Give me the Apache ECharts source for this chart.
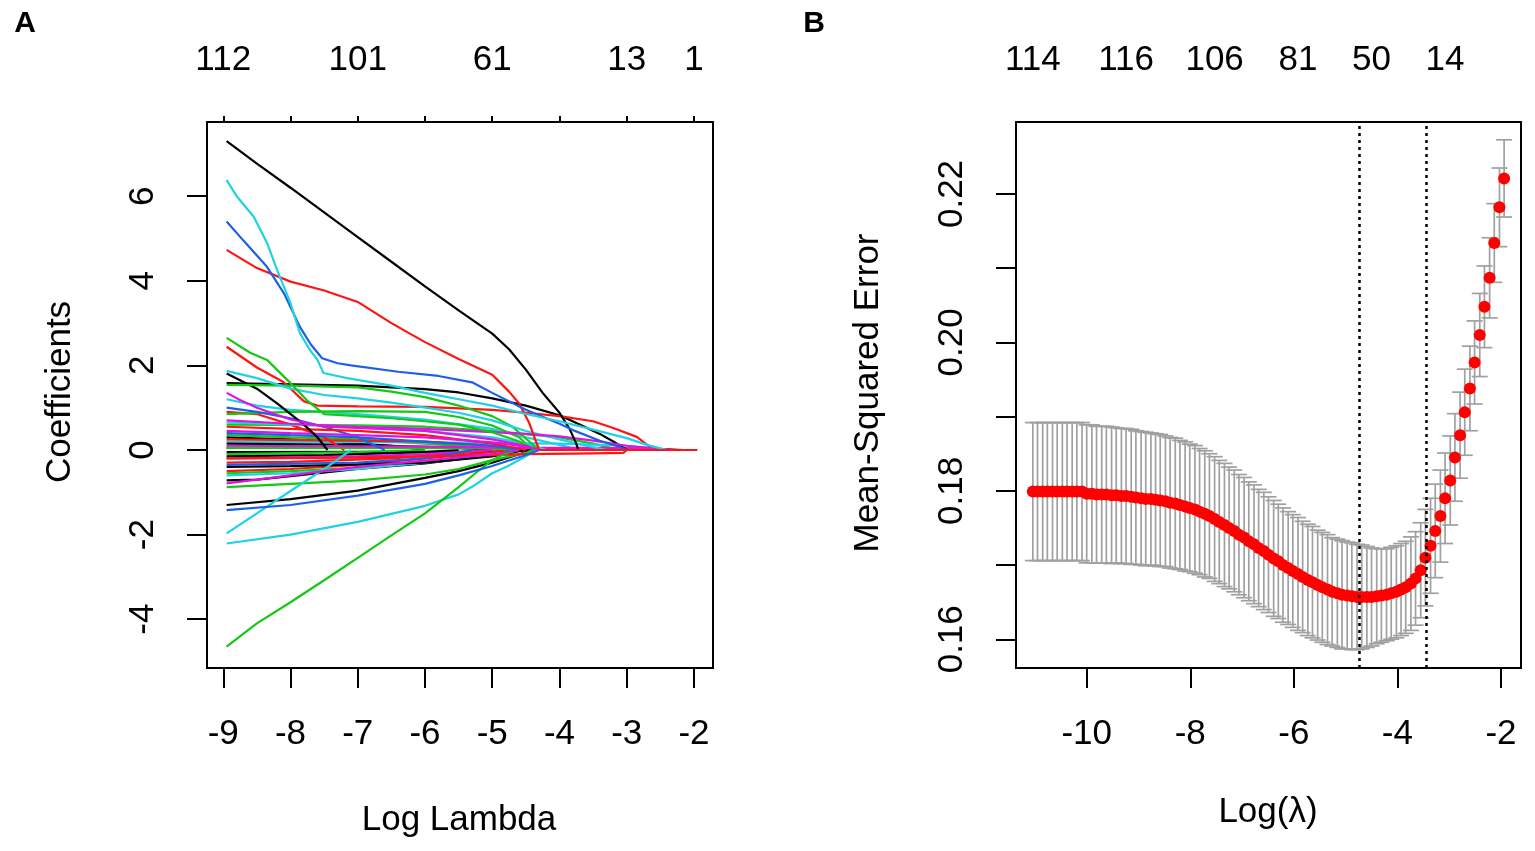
<!DOCTYPE html>
<html>
<head>
<meta charset="utf-8">
<script src="https://cdn.jsdelivr.net/npm/echarts@6/dist/echarts.min.js"></script>
<style>
html, body { margin: 0; padding: 0; background: #fff; }
#chart { width: 1535px; height: 851px; }
</style>
</head>
<body>
<div id="chart"></div>
<script>
// ---- panel A: lasso coefficient paths, [log lambda, coefficient]
var blackPaths = [
  [[-8.95,7.3],[-8.5,6.77],[-8,6.2],[-7.5,5.62],[-7,5.03],[-6.5,4.45],[-6,3.87],[-5.5,3.3],[-5,2.75],[-4.75,2.38],[-4.5,1.9],[-4.25,1.35],[-4,0.88],[-3.85,0.5],[-3.75,0.15],[-3.72,0]],
  [[-8.95,1.81],[-8.5,1.45],[-8.2,1.1],[-7.8,0.6],[-7.6,0.3],[-7.45,0]],
  [[-8.95,1.58],[-8,1.55],[-7,1.52],[-6.5,1.48],[-6,1.44],[-5.5,1.36],[-5,1.22],[-4.5,1.05],[-4,0.82],[-3.7,0.6],[-3.4,0.38],[-3.2,0.2],[-3.0,0]],
  [[-8.95,-1.3],[-8,-1.16],[-7,-0.96],[-6,-0.66],[-5.5,-0.5],[-5,-0.3],[-4.6,-0.1],[-4.4,0]],
  [[-8.95,-0.4],[-8,-0.38],[-7,-0.34],[-6,-0.3],[-5,-0.15],[-4.5,0]],
  [[-8.95,0.05],[-6,0.05],[-4,0.04],[-3,0.03],[-2.5,0.02],[-2.16,0]],
  [[-8.95,0.15],[-7,0.12],[-5.5,0.05],[-5,0]],
  [[-8.95,-0.15],[-7.5,-0.12],[-6,-0.05],[-5.5,0]],
  [[-8.95,0.3],[-8,0.25],[-6.5,0.1],[-6,0]],
  [[-8.95,-0.72],[-8.5,-0.7],[-8,-0.62],[-7,-0.45],[-6,-0.32],[-5,-0.12],[-4.6,0]],
  [[-8.95,-0.05],[-5,-0.04],[-4.3,0]]
];
var redPaths = [
  [[-8.95,4.73],[-8.5,4.3],[-8,3.98],[-7.5,3.77],[-7,3.5],[-6.5,3.0],[-6,2.55],[-5.5,2.15],[-5,1.78],[-4.75,1.38],[-4.6,1.1],[-4.45,0.64],[-4.35,0.2],[-4.3,0]],
  [[-8.95,2.44],[-8.5,1.95],[-8.1,1.6],[-7.8,1.15],[-7.6,1.05],[-7,1.03],[-6,1.02],[-5,0.95],[-4.5,0.88],[-4,0.8],[-3.5,0.68],[-3.2,0.52],[-2.85,0.31],[-2.6,0]],
  [[-8.95,-0.2],[-7,-0.18],[-5,-0.12],[-4.5,-0.1],[-3.5,-0.08],[-3.05,-0.07],[-3.0,0]],
  [[-8.95,0.55],[-8,0.5],[-7,0.45],[-6,0.35],[-5,0.15],[-4.5,0]],
  [[-8.95,-0.3],[-8,-0.28],[-6.5,-0.2],[-5.5,-0.08],[-5,0]],
  [[-8.95,0.9],[-8.5,0.85],[-8,0.6],[-7.5,0.3],[-7.2,0]],
  [[-8.95,0.25],[-7,0.22],[-6,0.2],[-5,0.1],[-4.6,0]],
  [[-8.95,-0.5],[-8,-0.45],[-7,-0.35],[-6,-0.2],[-5,-0.05],[-4.8,0]]
];
var greenPaths = [
  [[-8.95,2.65],[-8.6,2.3],[-8.35,2.13],[-8,1.58],[-7.76,1.18],[-7.5,0.85],[-7,0.8],[-6.5,0.75],[-6,0.68],[-5.5,0.6],[-5,0.42],[-4.6,0.2],[-4.35,0]],
  [[-8.95,1.54],[-8,1.52],[-7,1.48],[-6.5,1.38],[-6,1.25],[-5.5,1.05],[-5,0.8],[-4.7,0.55],[-4.45,0.2],[-4.3,0]],
  [[-8.95,-4.65],[-8.5,-4.1],[-8,-3.6],[-7.5,-3.08],[-7,-2.55],[-6.5,-2.02],[-6,-1.5],[-5.5,-0.88],[-5.25,-0.55],[-5,-0.24],[-4.8,-0.08],[-4.6,0]],
  [[-8.95,-0.88],[-8,-0.8],[-7,-0.72],[-6,-0.58],[-5.5,-0.45],[-5,-0.24],[-4.5,-0.07],[-4.4,0]],
  [[-8.95,0.85],[-8,0.9],[-7,0.92],[-6,0.9],[-5.5,0.78],[-5,0.58],[-4.6,0.3],[-4.4,0]],
  [[-8.95,0.05],[-6,0.05],[-5,0.03],[-4.5,0]],
  [[-8.95,-0.55],[-8,-0.5],[-7,-0.42],[-6,-0.3],[-5,-0.1],[-4.6,0]],
  [[-8.95,0.35],[-8,0.3],[-7,0.25],[-6,0.15],[-5,0.05],[-4.7,0]],
  [[-8.95,-0.1],[-7,-0.05],[-6,0]],
  [[-8.95,0.6],[-7,0.58],[-6,0.55],[-5,0.45],[-4,0.3],[-3.5,0.15],[-3.1,0]]
];
var bluePaths = [
  [[-8.95,5.4],[-8.7,4.95],[-8.35,4.33],[-8.1,3.71],[-7.86,2.91],[-7.7,2.5],[-7.53,2.17],[-7.3,2.05],[-7.1,2.0],[-6.4,1.85],[-5.8,1.75],[-5.3,1.6],[-5,1.35],[-4.5,0.95],[-4,0.62],[-3.8,0.47],[-3.4,0.22],[-3.1,0.07],[-3.0,0]],
  [[-8.95,-1.42],[-8,-1.3],[-7,-1.08],[-6,-0.8],[-5.5,-0.6],[-5,-0.38],[-4.5,-0.12],[-4.3,0]],
  [[-8.95,0.4],[-8,0.35],[-7,0.3],[-6,0.2],[-5,0.1],[-4.6,0]],
  [[-8.95,-0.35],[-7,-0.3],[-6,-0.2],[-5.3,0]],
  [[-8.95,1.0],[-8.5,0.9],[-8,0.75],[-7.5,0.55],[-7,0.3],[-6.6,0]]
];
var cyanPaths = [
  [[-8.95,6.38],[-8.8,6.0],[-8.55,5.52],[-8.35,4.9],[-8.2,4.26],[-8,3.47],[-7.86,2.76],[-7.71,2.36],[-7.6,2.13],[-7.51,1.82],[-7.16,1.7],[-6.5,1.52],[-6,1.35],[-5.5,1.2],[-5,1.05],[-4.5,0.85],[-4,0.68],[-3.5,0.48],[-3,0.28],[-2.7,0.12],[-2.4,0]],
  [[-8.95,1.87],[-8.5,1.7],[-8,1.45],[-7.5,1.3],[-7,1.22],[-6.5,1.12],[-6,1.0],[-5.5,0.88],[-5,0.7],[-4.5,0.45],[-4,0.25],[-3.6,0.1],[-3.3,0]],
  [[-8.95,-1.97],[-8.5,-1.5],[-8,-0.97],[-7.5,-0.45],[-7.27,-0.19],[-7.1,0]],
  [[-8.95,-2.21],[-8,-2.0],[-7,-1.7],[-6,-1.32],[-5.5,-1.05],[-5.3,-0.87],[-5,-0.55],[-4.78,-0.39],[-4.5,-0.15],[-4.35,0]],
  [[-8.95,0.65],[-8,0.6],[-7,0.55],[-6,0.45],[-5,0.3],[-4.5,0.15],[-4.2,0]],
  [[-8.95,-0.6],[-8,-0.55],[-7,-0.45],[-6,-0.3],[-5,-0.12],[-4.6,0]],
  [[-8.95,1.2],[-8.5,1.05],[-8,0.95],[-7,0.85],[-6,0.72],[-5,0.5],[-4.5,0.3],[-4,0.12],[-3.7,0]],
  [[-8.95,0.2],[-6,0.18],[-4,0.15],[-3,0.1],[-2.6,0.04],[-2.3,0]]
];
var magentaPaths = [
  [[-8.95,1.35],[-8.75,1.18],[-8.5,1.0],[-8,0.72],[-7.5,0.55],[-7,0.52],[-6,0.45],[-5,0.25],[-4.5,0.1],[-4.3,0]],
  [[-8.95,0.7],[-8,0.62],[-7,0.55],[-6,0.5],[-5,0.42],[-4.5,0.38],[-4,0.32],[-3.5,0.22],[-3,0.1],[-2.6,0.04],[-2.3,0]],
  [[-8.95,-0.79],[-8.5,-0.7],[-8,-0.6],[-7,-0.4],[-6,-0.25],[-5,-0.1],[-4.6,0]],
  [[-8.95,0.45],[-8,0.4],[-7,0.35],[-6,0.3],[-5,0.18],[-4.5,0.08],[-4.3,0]],
  [[-8.95,-0.2],[-7,-0.15],[-6,-0.1],[-5,0]],
  [[-8.95,0.1],[-6,0.08],[-4.5,0.05],[-3.5,0.05],[-3,0.04],[-2.5,0.02],[-2.3,0]]
];
var redTail = [[-4.3,0],[-1.95,0]];

var ticksA = [-9, -8, -7, -6, -5, -4, -3, -2];
var yTicksA = [-4, -2, 0, 2, 4, 6];
var dfPosA = [-9, -7, -5, -3, -2];
var dfLabelsA = ['112', '101', '61', '13', '1'];

// ---- panel B: cross-validated MSE
var logLambdaB = [
  -11.04,-10.95,-10.85,-10.76,-10.66,-10.57,-10.47,-10.38,-10.28,-10.19,
  -10.09,-10.00,-9.90,-9.81,-9.71,-9.62,-9.52,-9.43,-9.33,-9.24,
  -9.14,-9.05,-8.95,-8.86,-8.76,-8.67,-8.58,-8.48,-8.39,-8.29,
  -8.20,-8.10,-8.01,-7.91,-7.82,-7.72,-7.63,-7.53,-7.44,-7.34,
  -7.25,-7.15,-7.06,-6.96,-6.87,-6.77,-6.68,-6.58,-6.49,-6.39,
  -6.30,-6.21,-6.11,-6.02,-5.92,-5.83,-5.73,-5.64,-5.54,-5.45,
  -5.35,-5.26,-5.16,-5.07,-4.97,-4.88,-4.78,-4.69,-4.59,-4.50,
  -4.40,-4.31,-4.21,-4.12,-4.02,-3.93,-3.84,-3.74,-3.65,-3.55,
  -3.46,-3.36,-3.27,-3.17,-3.08,-2.98,-2.89,-2.79,-2.70,-2.60,
  -2.51,-2.41,-2.32,-2.22,-2.13,-2.03,-1.94
];
var mseMean = [
  0.1799,0.1799,0.1799,0.1799,0.1799,0.1799,0.1799,0.1799,0.1799,0.1799,
  0.1799,0.1796,0.1796,0.1795,0.1795,0.1795,0.1794,0.1794,0.1793,0.1793,
  0.1792,0.1791,0.1790,0.1789,0.1789,0.1788,0.1787,0.1786,0.1784,0.1783,
  0.1781,0.1779,0.1777,0.1775,0.1772,0.1769,0.1766,0.1762,0.1758,0.1754,
  0.1750,0.1746,0.1741,0.1737,0.1732,0.1728,0.1723,0.1719,0.1714,0.1709,
  0.1705,0.1700,0.1696,0.1692,0.1688,0.1684,0.1680,0.1677,0.1673,0.1670,
  0.1667,0.1664,0.1662,0.1660,0.1659,0.1658,0.1657,0.1657,0.1657,0.1657,
  0.1658,0.1659,0.1660,0.1662,0.1664,0.1667,0.1670,0.1675,0.1682,0.1693,
  0.1710,0.1726,0.1746,0.1766,0.1790,0.1814,0.1845,0.1875,0.1906,0.1938,
  0.1973,0.2010,0.2048,0.2087,0.2134,0.2182,0.2221
];
var mseSE = [
  0.0093,0.0093,0.0093,0.0093,0.0093,0.0093,0.0093,0.0093,0.0093,0.0093,
  0.0093,0.0093,0.0093,0.0092,0.0092,0.0092,0.0092,0.0091,0.0091,0.0091,
  0.0091,0.0090,0.0090,0.0090,0.0089,0.0089,0.0089,0.0088,0.0088,0.0088,
  0.0087,0.0087,0.0086,0.0086,0.0085,0.0085,0.0084,0.0084,0.0083,0.0083,
  0.0082,0.0082,0.0081,0.0081,0.0080,0.0080,0.0079,0.0079,0.0078,0.0078,
  0.0077,0.0077,0.0076,0.0076,0.0076,0.0075,0.0075,0.0075,0.0074,0.0074,
  0.0074,0.0073,0.0073,0.0073,0.0072,0.0072,0.0071,0.0070,0.0068,0.0066,
  0.0064,0.0063,0.0062,0.0062,0.0062,0.0062,0.0062,0.0063,0.0063,0.0064,
  0.0065,0.0064,0.0063,0.0062,0.0061,0.0060,0.0059,0.0058,0.0058,0.0057,
  0.0056,0.0056,0.0055,0.0054,0.0053,0.0053,0.0052
];
var lambdaMin = -4.744;
var lambda1se = -3.449;
var ticksB = [-10, -8, -6, -4, -2];
var yTicksB = [0.16, 0.17, 0.18, 0.19, 0.20, 0.21, 0.22];
var yLabelsB = [0.16, 0.18, 0.20, 0.22];
var dfPosB = [-11.04, -9.24, -7.53, -5.92, -4.50, -3.08];
var dfLabelsB = ['114', '116', '106', '81', '50', '14'];

var FONT = 'Liberation Sans';
var colors = {
  black: '#000000', red: '#ff1414', green: '#14c814',
  blue: '#1f5fe6', cyan: '#1ed2e6', magenta: '#e014e0'
};

function lookup(pos, labels) {
  return function (v) {
    for (var i = 0; i < pos.length; i++) {
      if (Math.abs(pos[i] - v) < 1e-6) return labels[i];
    }
    return '';
  };
}

function axisX(gridIndex, min, max, position, tickVals, tickLen, labelVals, fmt, showTick, margin) {
  return {
    type: 'value', gridIndex: gridIndex, position: position, min: min, max: max,
    axisLine: { show: true, onZero: false, lineStyle: { color: '#000', width: 2 } },
    axisTick: { show: showTick, length: tickLen, customValues: tickVals, lineStyle: { color: '#000', width: 2 } },
    axisLabel: { customValues: labelVals, formatter: fmt, fontSize: 35, fontFamily: FONT, color: '#000', margin: margin },
    splitLine: { show: false }
  };
}

function axisY(gridIndex, min, max, tickVals, labelVals, fmt) {
  return {
    type: 'value', gridIndex: gridIndex, min: min, max: max,
    axisLine: { show: true, onZero: false, lineStyle: { color: '#000', width: 2 } },
    axisTick: { show: true, length: 20, customValues: tickVals, lineStyle: { color: '#000', width: 2 } },
    axisLabel: { customValues: labelVals, formatter: fmt, rotate: 90, fontSize: 35, fontFamily: FONT, color: '#000', margin: 46 },
    splitLine: { show: false }
  };
}

// interleave colours so lines overlap like the R matplot
var groups = [
  { color: colors.black, paths: blackPaths },
  { color: colors.red, paths: redPaths },
  { color: colors.green, paths: greenPaths },
  { color: colors.blue, paths: bluePaths },
  { color: colors.cyan, paths: cyanPaths },
  { color: colors.magenta, paths: magentaPaths }
];
var series = [];
for (var k = 11; k >= 0; k--) {
  groups.forEach(function (g) {
    if (g.paths[k]) {
      series.push({
        type: 'line', xAxisIndex: 0, yAxisIndex: 0, data: g.paths[k],
        showSymbol: false, silent: true, animation: false,
        lineStyle: { color: g.color, width: 2.2 }
      });
    }
  });
}
series.push({
  type: 'line', xAxisIndex: 0, yAxisIndex: 0, data: redTail,
  showSymbol: false, silent: true, animation: false,
  lineStyle: { color: colors.red, width: 2.2 }
});

var barData = logLambdaB.map(function (x, i) {
  return [x, mseMean[i] - mseSE[i], mseMean[i] + mseSE[i]];
});
var dotData = logLambdaB.map(function (x, i) { return [x, mseMean[i]]; });

series.push({
  type: 'custom', xAxisIndex: 2, yAxisIndex: 1, data: barData, silent: true, animation: false,
  encode: { x: 0, y: [1, 2] },
  renderItem: function (params, api) {
    var x = api.value(0);
    var lo = api.coord([x, api.value(1)]);
    var hi = api.coord([x, api.value(2)]);
    var half = 8;
    var st = { stroke: '#a0a0a0', lineWidth: 1.7 };
    return {
      type: 'group', children: [
        { type: 'line', shape: { x1: lo[0], y1: lo[1], x2: hi[0], y2: hi[1] }, style: st },
        { type: 'line', shape: { x1: hi[0] - half, y1: hi[1], x2: hi[0] + half, y2: hi[1] }, style: st },
        { type: 'line', shape: { x1: lo[0] - half, y1: lo[1], x2: lo[0] + half, y2: lo[1] }, style: st }
      ]
    };
  }
});
series.push({
  type: 'scatter', xAxisIndex: 2, yAxisIndex: 1, data: dotData, silent: true, animation: false,
  symbol: 'circle', symbolSize: 12, itemStyle: { color: '#ff0000', opacity: 1 },
  markLine: {
    silent: true, animation: false, symbol: ['none', 'none'],
    label: { show: false },
    lineStyle: { color: '#000', width: 2.5, type: [3, 4] },
    data: [{ xAxis: lambdaMin }, { xAxis: lambda1se }]
  }
});

function label(text, x, y, size, rot, bold) {
  return {
    type: 'text', x: x, y: y, rotation: rot || 0, silent: true,
    style: {
      text: text, align: 'center', verticalAlign: 'middle', fill: '#000',
      fontSize: size, fontFamily: FONT, fontWeight: bold ? 'bold' : 'normal'
    }
  };
}

var chart = echarts.init(document.getElementById('chart'));
chart.setOption({
  backgroundColor: '#fff',
  animation: false,
  grid: [
    { left: 207, top: 122, width: 506, height: 546, show: true, borderColor: '#000', borderWidth: 2, backgroundColor: 'transparent', containLabel: false, outerBoundsMode: 'none' },
    { left: 1016, top: 122, width: 505, height: 546, show: true, borderColor: '#000', borderWidth: 2, backgroundColor: 'transparent', containLabel: false, outerBoundsMode: 'none' }
  ],
  xAxis: [
    axisX(0, -9.242, -1.717, 'bottom', ticksA, 20, ticksA, function (v) { return String(v); }, true, 49),
    axisX(0, -9.242, -1.717, 'top', ticksA, 6, dfPosA, lookup(dfPosA, dfLabelsA), true, 44),
    axisX(1, -11.365, -1.614, 'bottom', ticksB, 20, ticksB, function (v) { return String(v); }, true, 49),
    axisX(1, -11.365, -1.614, 'top', [], 0, dfPosB, lookup(dfPosB, dfLabelsB), false, 44)
  ],
  yAxis: [
    axisY(0, -5.154, 7.754, yTicksA, yTicksA, function (v) { return String(v); }),
    axisY(1, 0.15613, 0.2297, yTicksB, yLabelsB, function (v) { return v.toFixed(2); })
  ],
  graphic: [
    label('A', 25, 24, 30, 0, true),
    label('B', 814, 24, 30, 0, true),
    label('Coefficients', 60, 392, 35, Math.PI / 2),
    label('Mean-Squared Error', 868, 393, 35, Math.PI / 2),
    label('Log Lambda', 459, 820, 35),
    label('Log(\u03bb)', 1268, 812, 35)
  ],
  series: series
});
</script>
</body>
</html>
